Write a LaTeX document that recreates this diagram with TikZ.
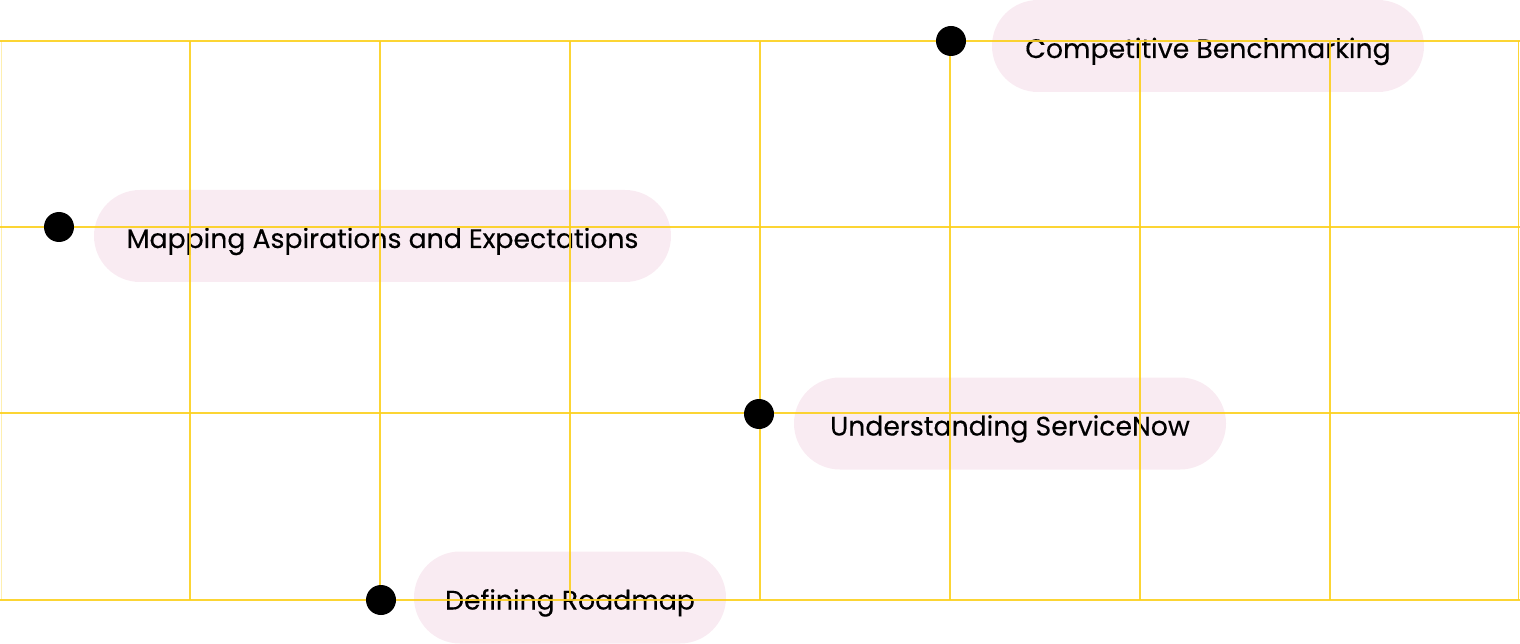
\documentclass[tikz,border=0pt]{standalone}
\usepackage{fontspec}
\setmainfont{Poppins}[FakeBold=0.3]
\definecolor{gridy}{RGB}{252,208,30}
\definecolor{pillc}{RGB}{249,235,242}
\newcommand{\pilltxt}[1]{\raisebox{-12pt}[0pt][0pt]{#1}}
\tikzset{
  pill/.style={fill=pillc, rounded corners=46pt, minimum height=92pt, inner sep=0pt, align=center, font=\fontsize{26.7}{30}\selectfont, text=black},
  gridline/.style={draw=gridy, line width=1.2pt, opacity=0.9},
  dot/.style={circle, fill=black, minimum size=30pt, inner sep=0pt}
}
\begin{document}
\begin{tikzpicture}[x=1pt,y=-1pt]
\useasboundingbox (0,0) rectangle (1520,644);
% pills
\node[pill, minimum width=577pt] (map) at (382.5,236) {\pilltxt{Mapping Aspirations and Expectations}};
\node[pill, minimum width=432pt] (comp) at (1208,46) {\pilltxt{Competitive Benchmarking}};
\node[pill, minimum width=432pt] (und) at (1010,423.5) {\pilltxt{Understanding ServiceNow}};
\node[pill, minimum width=312pt] (def) at (570,597.5) {\pilltxt{Defining Roadmap}};
% grid
\foreach \y in {41,227,413,600} \draw[gridline] (0,\y) -- (1520,\y);
\foreach \x in {190,380,570,760,950,1140,1330,1518.5} \draw[gridline] (\x,41) -- (\x,600);
\draw[gridline, opacity=0.35] (1.5,41) -- (1.5,600);
% dots
\node[dot] (d1) at (59,227) {};
\node[dot] (d2) at (951,41) {};
\node[dot] (d3) at (759,414) {};
\node[dot] (d4) at (381,600) {};
\end{tikzpicture}
\end{document}
